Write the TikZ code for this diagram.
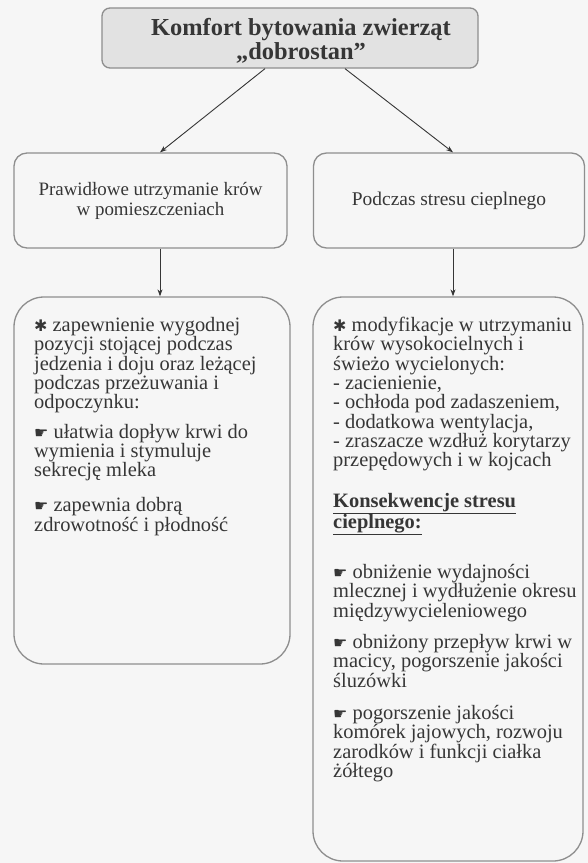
\documentclass[tikz,border=0pt]{standalone}
\usepackage{fontspec}
\setmainfont{Liberation Serif}
\newfontfamily\symfont{DejaVu Sans}
\usetikzlibrary{arrows.meta}

\definecolor{ink}{HTML}{363636}
\definecolor{frame}{HTML}{8E8E8E}
\definecolor{titlefill}{HTML}{E2E2E2}
\definecolor{paper}{HTML}{F6F6F6}

\newcommand\starmark{{\symfont\fontsize{16}{16}\selectfont ✱}}
\newcommand\handmark{{\symfont\fontsize{16}{16}\selectfont ☛}}

\begin{document}
\begin{tikzpicture}[x=1bp,y=-1bp,
  frameline/.style={draw=frame, line width=1.3bp},
  titlebox/.style={frameline, fill=titlefill, rounded corners=8bp},
  midbox/.style={frameline, rounded corners=13bp},
  bigbox/.style={frameline, rounded corners=30bp},
  bodytext/.style={text=ink, inner sep=0pt, anchor=north west, align=left,
    font=\fontsize{20.5}{19.4}\selectfont},
  conn/.style={draw=ink, line width=0.9bp,
    -{Stealth[length=7bp,width=5bp]}}
]
% page
\fill[paper] (0,0) rectangle (588,863);
\useasboundingbox (0,0) rectangle (588,863);

% header
\node[titlebox, minimum width=376bp, minimum height=60bp, inner sep=0pt]
  (top) at (290,38) {};
\node[inner sep=0pt, align=center, text=ink,
      font=\bfseries\fontsize{24.5}{24.5}\selectfont]
  (toptitle) at (301,41) {Komfort bytowania zwierząt\\„dobrostan”};

% second level
\node[midbox, minimum width=273bp, minimum height=95bp, inner sep=0pt,
      align=center, text=ink, font=\fontsize{19}{20}\selectfont]
  (lmid) at (150.5,200.5) {Prawidłowe utrzymanie krów\\w pomieszczeniach};
\node[midbox, minimum width=271bp, minimum height=95bp, inner sep=0pt,
      align=center, text=ink, font=\fontsize{19.5}{20}\selectfont]
  (rmid) at (449,200.5) {Podczas stresu cieplnego};

% third level frames
\node[bigbox, minimum width=276bp, minimum height=367bp, inner sep=0pt]
  (lbot) at (152,480.5) {};
\node[bigbox, minimum width=270bp, minimum height=564bp, inner sep=0pt]
  (rbot) at (448,579) {};

% left column text
\node[bodytext] (ltext) at (34,317) {%
  \starmark{} zapewnienie wygodnej\\
  pozycji stojącej podczas\\
  jedzenia i doju oraz leżącej\\
  podczas przeżuwania i\\
  odpoczynku:\\[10bp]
  \handmark{} ułatwia dopływ krwi do\\
  wymienia i stymuluje\\
  sekrecję mleka\\[16bp]
  \handmark{} zapewnia dobrą\\
  zdrowotność i płodność};

% right column text
\node[bodytext] (rtext) at (333,317) {%
  \starmark{} modyfikacje w utrzymaniu\\
  krów wysokocielnych i\\
  świeżo wycielonych:\\
  - zacienienie,\\
  - ochłoda pod zadaszeniem,\\
  - dodatkowa wentylacja,\\
  - zraszacze wzdłuż korytarzy\\
  przepędowych i w kojcach\\[21bp]
  \textbf{\underline{Konsekwencje stresu}}\\
  \textbf{\underline{cieplnego:}}\\[28bp]
  \handmark{} obniżenie wydajności\\
  mlecznej i wydłużenie okresu\\
  międzywycieleniowego\\[12bp]
  \handmark{} obniżony przepływ krwi w\\
  macicy, pogorszenie jakości\\
  śluzówki\\[13bp]
  \handmark{} pogorszenie jakości\\
  komórek jajowych, rozwoju\\
  zarodków i funkcji ciałka\\
  żółtego};

% connectors
\draw[conn] ([xshift=-25bp]top.south) -- ([xshift=9.5bp]lmid.north);
\draw[conn] ([xshift=55bp]top.south) -- ([xshift=4bp]rmid.north);
\draw[conn] ([xshift=9.5bp]lmid.south) -- ([xshift=8bp]lbot.north);
\draw[conn] ([xshift=4bp]rmid.south) -- ([xshift=5bp]rbot.north);
\end{tikzpicture}
\end{document}
